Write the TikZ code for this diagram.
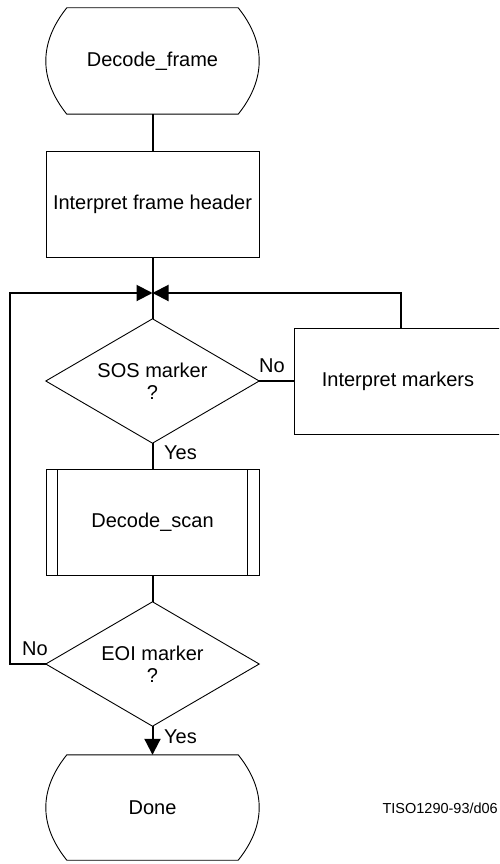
\documentclass[tikz,border=0pt]{standalone}
\usepackage{fontspec}
\setmainfont{Liberation Sans}
\usetikzlibrary{arrows.meta}
\tikzset{
  shapeline/.style={draw=black,line width=0.9pt},
  txt/.style={font=\fontsize{20}{22}\selectfont},
  term/.style={txt,minimum width=213pt,minimum height=106pt,inner sep=0pt},
  proc/.style={txt,shapeline,rectangle,minimum width=213pt,minimum height=106pt,inner sep=0pt},
  decision/.style={txt,rectangle,minimum width=213pt,minimum height=124pt,inner sep=0pt,align=center},
  flow/.style={line width=2pt},
  tipend/.style={-{Triangle[length=16pt 0 0,width=16pt 0 0]}},
  lbl/.style={txt,inner sep=0pt},
}
\newcommand\termoutline[1]{%
  \draw[shapeline] ([xshift=21pt]#1.north west) -- ([xshift=-21pt]#1.north east)
    .. controls ([xshift=7pt,yshift=-35pt]#1.north east) and ([xshift=7pt,yshift=35pt]#1.south east) .. ([xshift=-21pt]#1.south east)
    -- ([xshift=21pt]#1.south west)
    .. controls ([xshift=-7pt,yshift=35pt]#1.south west) and ([xshift=-7pt,yshift=-35pt]#1.north west) .. cycle;}
\newcommand\diamondoutline[1]{%
  \draw[shapeline] (#1.north) -- (#1.east) -- (#1.south) -- (#1.west) -- cycle;}
\begin{document}
\begin{tikzpicture}[x=1pt,y=-1pt]
  \useasboundingbox (0,0) rectangle (499,864);
  \clip (0,0) rectangle (499,864);

  \node[term] (start) at (152.5,61) {Decode\_frame};
  \termoutline{start}
  \node[proc] (hdr) at (152.5,204) {Interpret frame header};
  \coordinate (J) at (152.5,293);
  \node[decision] (sos) at (152.5,381) {SOS marker\\?};
  \diamondoutline{sos}
  \node[proc,minimum width=208pt] (markers) at (398,381) {Interpret markers};
  \node[proc] (scan) at (152.5,522.5) {Decode\_scan};
  \draw[shapeline] ([xshift=12pt]scan.north west) -- ([xshift=12pt]scan.south west);
  \draw[shapeline] ([xshift=-12pt]scan.north east) -- ([xshift=-12pt]scan.south east);
  \node[decision] (eoi) at (152.5,664) {EOI marker\\?};
  \diamondoutline{eoi}
  \node[term,minimum height=105pt] (done) at (152.5,807.5) {Done};
  \termoutline{done}

  \draw[flow] (start.south) -- (hdr.north);
  \draw[flow] (hdr.south) -- (sos.north);
  \draw[flow] (sos.east) -- (markers.west);
  \draw[flow,tipend] ([xshift=3pt]markers.north) |- (J);
  \draw[flow,tipend] (eoi.west) -- ++(-36,0) |- (J);
  \draw[flow] (sos.south) -- (scan.north);
  \draw[flow] (scan.south) -- (eoi.north);
  \draw[flow,tipend] (eoi.south) -- (done.north);

  \node[lbl,anchor=west] (no1) at (259,366) {No};
  \node[lbl,anchor=west] (yes1) at (164,453) {Yes};
  \node[lbl,anchor=west] (no2) at (22,649) {No};
  \node[lbl,anchor=west] (yes2) at (164,737) {Yes};
  \node[font=\fontsize{14.5}{16}\selectfont,anchor=east,inner sep=0pt] (tiso) at (498,808) {TISO1290-93/d06};
\end{tikzpicture}
\end{document}
